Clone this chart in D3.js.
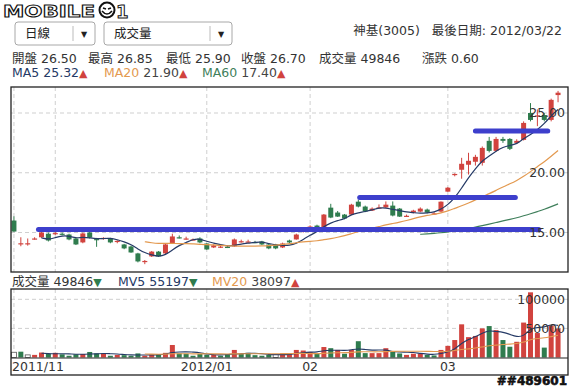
<!DOCTYPE html>
<html><head><meta charset="utf-8">
<script src="https://cdn.jsdelivr.net/npm/d3@7"></script>
<style>body{margin:0;background:#fff}svg{display:block}</style>
</head><body><svg id="c" width="574" height="388"></svg>
<script>
// ---------- data ----------
const openP  = [16.0,14.0,14.1,14.45,14.6,14.9,14.9,14.9,14.83,14.5,14.17,15.0,14.45,14.45,14.5,14.2,14.0,13.83,13.25,12.6,
  13.0,13.4,13.25,14.1,14.6,14.5,14.4,14.5,14.08,13.75,13.8,13.8,13.83,14.25,14.25,14.2,14.25,14.0,14.0,13.75,
  14.33,14.42,15.08,15.5,15.58,15.42,17.08,16.67,16.5,16.5,17.58,17.17,16.83,17.1,17.1,17.25,17.0,16.4,16.67,16.75,
  16.92,16.6,16.75,18.42,19.9,20.25,20.67,20.92,20.83,22.67,21.83,22.83,22.83,22.5,22.75,25.0,24.8,24.83,24.42,26.5];
const highP  = [16.35,14.6,14.5,14.6,15.1,15.0,15.1,15.0,14.9,14.55,15.0,15.1,14.55,14.6,14.55,14.35,14.05,13.9,13.3,12.7,
  13.45,13.45,14.05,14.9,14.75,14.65,14.5,14.6,14.1,14.0,13.9,13.9,14.5,14.4,14.4,14.3,14.3,14.05,14.05,14.15,
  14.4,14.9,15.4,15.6,15.65,16.55,17.4,16.8,16.55,17.4,17.75,17.25,17.1,17.35,17.6,17.6,17.05,16.5,16.9,17.1,
  17.0,16.7,17.6,18.8,19.95,21.25,21.67,21.5,22.2,23.0,23.0,23.0,22.9,22.8,24.3,25.83,25.3,25.0,26.2,26.85];
const lowP   = [15.05,13.85,13.9,14.4,14.55,14.25,14.8,14.75,14.35,13.95,14.1,14.5,13.8,14.4,14.1,14.1,13.6,13.3,12.5,12.35,
  12.95,12.95,13.2,14.05,14.5,14.4,14.35,14.1,13.55,13.7,13.7,13.7,13.8,14.15,14.15,14.1,13.95,13.6,13.6,13.7,
  14.1,14.4,15.0,15.35,15.35,15.4,16.2,16.3,16.1,16.45,17.1,16.7,16.8,17.0,17.05,16.35,16.3,16.3,16.6,16.7,
  16.6,16.5,16.7,18.4,19.7,19.5,19.85,20.6,20.6,21.7,21.75,22.5,21.9,22.4,22.7,24.3,23.9,24.3,24.3,25.9];
const closeP = [15.08,14.1,14.1,14.5,15.0,14.33,14.95,14.85,14.42,14.0,14.92,14.58,14.42,14.55,14.17,14.3,13.67,13.33,12.58,12.62,
  13.4,13.0,14.0,14.67,14.58,14.5,14.42,14.17,13.58,13.92,13.82,13.78,14.42,14.27,14.25,14.17,14.0,13.67,13.67,14.08,
  14.17,14.83,15.33,15.5,15.42,16.5,16.25,16.33,16.17,17.33,17.17,16.75,17.0,17.1,17.33,16.42,16.33,16.4,16.83,17.0,
  16.67,16.6,17.58,18.75,19.9,20.75,21.0,21.33,22.08,21.83,22.83,22.67,22.0,22.67,24.17,24.42,24.8,24.42,26.1,26.7];
const volume = [9000,10000,4500,4500,8500,6000,8000,5500,3000,5500,6000,9500,7000,7000,3000,4500,4000,3000,7000,3000,
  5000,6000,8000,21500,7000,6500,3000,6000,4500,5000,3000,6000,13000,6000,8000,4000,3000,4500,5500,7000,
  5500,13000,12000,9500,6500,18000,16000,13000,6500,13000,28000,7500,7500,7500,16000,10000,7000,4500,6500,6500,
  4500,3500,13000,20000,30000,57000,35000,37000,50000,54000,47000,30000,18500,27000,60000,112000,42000,17000,55000,49846];
const monthTickIdx   = [0, 6, 28, 43, 63];
const monthTickLabel = ["2011/11", "", "2012/01", "02", "03"];
const priceTicks  = [15, 20, 25];
const volumeTicks = [50000, 100000];
// user-drawn horizontal marker lines (price level, start index, end index)
const markLevel = [15.25, 17.92, 23.5];
const markStart = [3.56, 50.2, 67.0];
const markEnd   = [76.2, 72.8, 77.5];
const stockTitle = "神基(3005)";
const lastDate = "最後日期: 2012/03/22";
const infoItems = ["開盤 26.50", "最高 26.85", "最低 25.90", "收盤 26.70", "成交量 49846", "漲跌 0.60"];

// ---------- setup ----------
const N = closeP.length;
const FONT = "'DejaVu Sans','Noto Sans CJK TC',sans-serif";
const RED = "#d1433e", GREEN = "#2f7c4e", NAVY = "#253a66", ORANGE = "#e3994f", MGREEN = "#3f7f5b";
const svg = d3.select("#c").style("font-family", FONT);

const xb = d3.scaleBand().domain(d3.range(N)).range([10.5, 561.5]);
const cx = i => xb(i) + xb.bandwidth() / 2;
const xl = d3.scaleLinear().domain([0, N - 1]).range([cx(0), cx(N - 1)]);
const y = d3.scaleLinear().domain([15, 25]).range([232.5, 113]);
const yv = d3.scaleLinear().domain([0, 100000]).range([357.5, 299.3]);

const P = {l: 11, r: 568, t: 87, b: 272};
const V = {l: 11, r: 568, t: 289, b: 375, base: 358};

function ma(arr, n) {
  return arr.map((v, i) => i < n - 1 ? null : d3.mean(arr.slice(i - n + 1, i + 1)));
}

// ---------- logo ----------
const logo = svg.append("g");
logo.append("text").attr("x", 3).attr("y", 17).attr("font-size", 16).attr("font-weight", "bold")
  .attr("textLength", 92).attr("lengthAdjust", "spacingAndGlyphs")
  .attr("fill", "#fff").attr("stroke", "#111").attr("stroke-width", 1).text("MOBILE");
logo.append("circle").attr("cx", 107).attr("cy", 10).attr("r", 7.5).attr("fill", "#fff").attr("stroke", "#111").attr("stroke-width", 2);
logo.append("path").attr("d", "M102,11 Q107,17 112,11").attr("fill", "none").attr("stroke", "#111").attr("stroke-width", 1.5);
logo.append("path").attr("d", "M103,8 L106,9 M111,8 L108,9").attr("stroke", "#111").attr("stroke-width", 1.5);
logo.append("text").attr("x", 116).attr("y", 18).attr("font-size", 18).attr("font-weight", "bold")
  .attr("fill", "#fff").attr("stroke", "#111").attr("stroke-width", 1).text("1");

// ---------- dropdowns ----------
function dropdown(x, w, label) {
  const g = svg.append("g");
  g.append("rect").attr("x", x).attr("y", 22).attr("width", w).attr("height", 23).attr("rx", 3)
    .attr("fill", "#fff").attr("stroke", "#a8a8a8");
  g.append("line").attr("x1", x + w - 22).attr("x2", x + w - 22).attr("y1", 26).attr("y2", 41).attr("stroke", "#bbb");
  g.append("text").attr("x", x + w - 11).attr("y", 34).attr("dy", "0.35em").attr("text-anchor", "middle")
    .attr("font-size", 8).attr("fill", "#222").text("▼");
  g.append("text").attr("x", x + 10).attr("y", 34).attr("dy", "0.35em").attr("font-size", 12.5).attr("fill", "#222").text(label);
}
dropdown(15, 80, "日線");
dropdown(104, 128, "成交量");

// ---------- header ----------
svg.append("text").attr("x", 562).attr("y", 31).attr("dy", "0.35em").attr("text-anchor", "end")
  .attr("font-size", 12.5).attr("fill", "#333").attr("xml:space", "preserve").text(stockTitle + "   " + lastDate);
const infoX = [12, 88, 166, 241, 319, 422];
infoItems.forEach((t, i) => svg.append("text").attr("x", infoX[i]).attr("y", 59).attr("dy", "0.35em")
  .attr("font-size", 12.5).attr("fill", "#333").text(t));

function legend(x, yy, parts) {
  const t = svg.append("text").attr("x", x).attr("y", yy).attr("dy", "0.35em").attr("font-size", 12.5);
  parts.forEach(p => t.append("tspan").attr("fill", p[1]).attr("font-size", p[2] || null).text(p[0]));
}
legend(12, 73, [["MA5 25.32", NAVY], ["▲", RED, 11]]);
legend(104, 73, [["MA20 ", ORANGE], ["21.90", "#444"], ["▲", RED, 11]]);
legend(202, 73, [["MA60 ", MGREEN], ["17.40", "#444"], ["▲", RED, 11]]);
legend(12, 282, [["成交量 49846", "#333"], ["▼", GREEN, 11]]);
legend(118, 282, [["MV5 55197", NAVY], ["▼", GREEN, 11]]);
legend(212, 282, [["MV20 ", ORANGE], ["38097", "#444"], ["▲", RED, 11]]);

// ---------- grids ----------
const grid = svg.append("g").attr("stroke", "#cfcfcf").attr("stroke-dasharray", "4,3").attr("stroke-width", 1);
priceTicks.forEach(p => grid.append("line").attr("x1", P.l).attr("x2", P.r).attr("y1", y(p)).attr("y2", y(p)));
volumeTicks.forEach(v => grid.append("line").attr("x1", V.l).attr("x2", V.r).attr("y1", yv(v)).attr("y2", yv(v)));
monthTickIdx.forEach(i => {
  grid.append("line").attr("x1", cx(i)).attr("x2", cx(i)).attr("y1", P.t).attr("y2", P.b);
  grid.append("line").attr("x1", cx(i)).attr("x2", cx(i)).attr("y1", V.t).attr("y2", V.base);
});

// ---------- price panel ----------
const idx = d3.range(N);
const pc = svg.append("g");
idx.forEach(i => {
  const up = closeP[i] >= openP[i];
  const col = up ? RED : GREEN;
  pc.append("line").attr("x1", cx(i)).attr("x2", cx(i)).attr("y1", y(highP[i])).attr("y2", y(lowP[i]))
    .attr("stroke", col).attr("stroke-width", 1);
  const top = y(Math.max(openP[i], closeP[i])), bot = y(Math.min(openP[i], closeP[i]));
  pc.append("rect").attr("x", cx(i) - 2.5).attr("width", 5).attr("y", top).attr("height", Math.max(1.2, bot - top)).attr("fill", col);
});

const lineGen = d3.line().defined(d => d[1] != null).x(d => cx(d[0])).curve(d3.curveBasis);
[[5, NAVY], [20, ORANGE], [60, MGREEN]].forEach(([n, c]) => {
  const m = ma(closeP, n);
  svg.append("path").datum(idx.map(i => [i, m[i]])).attr("fill", "none").attr("stroke", c).attr("stroke-width", 1.2)
    .attr("d", lineGen.y(d => y(d[1])));
});

markLevel.forEach((lv, k) => svg.append("line").attr("x1", xl(markStart[k])).attr("x2", xl(markEnd[k]))
  .attr("y1", y(lv)).attr("y2", y(lv)).attr("stroke", "#3d3fcc").attr("stroke-width", 5).attr("stroke-linecap", "round"));

priceTicks.forEach(p => svg.append("text").attr("x", 565).attr("y", y(p)).attr("dy", "0.35em").attr("text-anchor", "end")
  .attr("font-size", 12.5).attr("fill", "#333").text(p.toFixed(2)));

svg.append("rect").attr("x", P.l).attr("y", P.t).attr("width", P.r - P.l).attr("height", P.b - P.t)
  .attr("fill", "none").attr("stroke", "#222").attr("stroke-width", 1.3);

// ---------- volume panel ----------
const vg = svg.append("g");
idx.forEach(i => {
  const d = i === 0 ? 0 : closeP[i] - closeP[i - 1];
  const flat = Math.abs(d) < 1e-9;
  vg.append("rect").attr("x", cx(i) - 2.5).attr("width", 5).attr("y", yv(volume[i]))
    .attr("height", yv(0) - yv(volume[i]))
    .attr("fill", flat ? "#fff" : (d > 0 ? RED : GREEN))
    .attr("stroke", flat ? "#555" : "none").attr("stroke-width", 0.8);
});
[[5, NAVY], [20, ORANGE]].forEach(([n, c]) => {
  const m = ma(volume, n);
  svg.append("path").datum(idx.map(i => [i, m[i]])).attr("fill", "none").attr("stroke", c).attr("stroke-width", 1.1)
    .attr("d", lineGen.y(d => yv(d[1])));
});
volumeTicks.forEach(v => svg.append("text").attr("x", 565).attr("y", yv(v)).attr("dy", "0.35em").attr("text-anchor", "end")
  .attr("font-size", 12.5).attr("fill", "#333").text(String(v)));

svg.append("line").attr("x1", V.l).attr("x2", V.r).attr("y1", V.base).attr("y2", V.base).attr("stroke", "#222").attr("stroke-width", 1.2);
svg.append("rect").attr("x", V.l).attr("y", V.t).attr("width", V.r - V.l).attr("height", V.b - V.t)
  .attr("fill", "none").attr("stroke", "#222").attr("stroke-width", 1.3);

monthTickIdx.forEach((i, k) => {
  if (!monthTickLabel[k]) return;
  const first = k === 0;
  svg.append("text").attr("x", first ? 12 : cx(i)).attr("y", 367).attr("dy", "0.35em")
    .attr("text-anchor", first ? "start" : "middle").attr("font-size", 12.5).attr("fill", "#333").text(monthTickLabel[k]);
});

// watermark
svg.append("text").attr("x", 567).attr("y", 381).attr("dy", "0.35em").attr("text-anchor", "end")
  .attr("font-size", 12).attr("font-weight", "bold").attr("fill", "#111").attr("stroke", "#111").attr("stroke-width", 0.6)
  .text("##489601");
</script></body></html>
